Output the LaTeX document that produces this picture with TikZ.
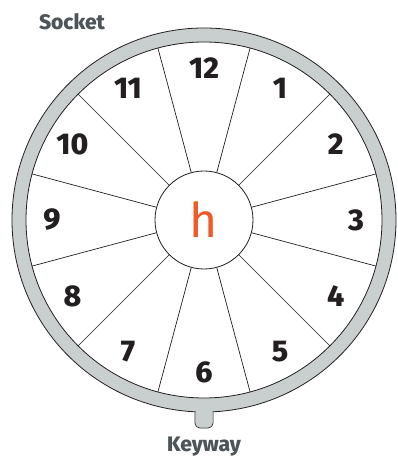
\documentclass[tikz,border=0pt]{standalone}
\usepackage{fontspec}
\setmainfont{Fira Sans}[BoldFont={Fira Sans ExtraBold}]
\definecolor{RingGrey}  {RGB}{201,206,206}
\definecolor{InkDark}   {RGB}{35,31,32}
\definecolor{LabelGrey} {RGB}{78,85,88}
\definecolor{PinOrange} {RGB}{240,90,40}
\usetikzlibrary{positioning,calc}

\begin{document}
\begin{tikzpicture}[x=1pt,y=1pt,
  ring/.style={draw=InkDark,line width=0.8pt,fill=RingGrey,even odd rule},
  spoke/.style={draw=InkDark,line width=0.7pt},
  pinnum/.style={font=\fontsize{30}{30}\selectfont\bfseries,text=InkDark},
  tag/.style={font=\fontsize{21}{21}\selectfont\bfseries,text=LabelGrey}]
  \useasboundingbox (0,0) rectangle (397,464);
  \coordinate (C) at (204,244);
  % keyway tab, then the ring over it
  \draw[ring,rounded corners=5pt] (195,36) rectangle (213,62);
  \draw[ring] (C) circle[radius=192] (C) circle[radius=178];
  \fill[RingGrey,rounded corners=4.5pt] (195.5,36.5) rectangle (212.5,60);
  % spokes and pin numbers
  \foreach \k in {1,...,12}{
    \draw[spoke] ($(C)+(75+30*\k:49)$) -- ($(C)+(75+30*\k:178)$);
    \node[pinnum] (n\k) at ($(C)+(90-30*\k:152)$) {\k};
  }
  \node[circle,draw=InkDark,line width=0.8pt,fill=white,minimum size=98pt,
        inner sep=0pt,text=PinOrange,font=\fontsize{48}{48}\selectfont]
       (hub) at (C) {h};
  \node[tag] (socket) at (72,442) {Socket};
  \node[tag] (keyway) at (204,17) {Keyway};
\end{tikzpicture}
\end{document}
